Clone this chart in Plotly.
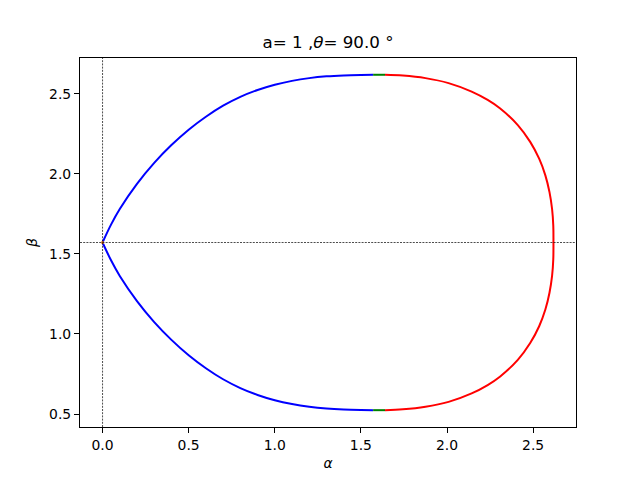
import plotly.graph_objects as go

# ---- data ----
blue_alpha    = [0.000, 0.050, 0.100, 0.200, 0.300, 0.400, 0.500, 0.600, 0.700, 0.800, 0.900,
                 1.000, 1.100, 1.200, 1.300, 1.400, 1.500, 1.571]
blue_up_beta  = [1.571, 1.684, 1.780, 1.937, 2.068, 2.179, 2.275, 2.356, 2.425, 2.480, 2.523,
                 2.556, 2.580, 2.597, 2.608, 2.614, 2.617, 2.618]
blue_lo_beta  = [1.571, 1.458, 1.362, 1.205, 1.074, 0.963, 0.867, 0.786, 0.717, 0.662, 0.619,
                 0.586, 0.562, 0.545, 0.534, 0.528, 0.525, 0.524]

red_alpha = [1.640, 1.744, 1.875, 2.009, 2.143, 2.236, 2.307, 2.411, 2.483, 2.535, 2.571, 2.595, 2.610, 2.617,
             2.618,
             2.617, 2.610, 2.595, 2.571, 2.535, 2.483, 2.411, 2.307, 2.236, 2.143, 2.009, 1.875, 1.744, 1.640]
red_beta  = [2.618, 2.613, 2.597, 2.566, 2.513, 2.461, 2.409, 2.304, 2.199, 2.094, 1.990, 1.885, 1.780, 1.676,
             1.571,
             1.466, 1.362, 1.257, 1.152, 1.048, 0.943, 0.838, 0.733, 0.681, 0.629, 0.576, 0.545, 0.529, 0.524]

green_alpha    = [1.571, 1.640]
green_up_beta  = [2.618, 2.618]
green_lo_beta  = [0.524, 0.524]

point_alpha = [0.0]
point_beta = [1.5708]

ref_alpha = 0.0
ref_beta = 1.5708

x_range = [-0.1309, 2.7489]
y_range = [0.4189, 2.7227]
x_ticks = [0.0, 0.5, 1.0, 1.5, 2.0, 2.5]
y_ticks = [0.5, 1.0, 1.5, 2.0, 2.5]

title_text = "a= 1 ,<i>θ</i>= 90.0 °"

FONT = "DejaVu Sans"

fig = go.Figure()

for ys in [blue_up_beta, blue_lo_beta]:
    fig.add_trace(go.Scatter(x=blue_alpha, y=ys, mode="lines",
                             line=dict(color="blue", width=2, shape="spline", smoothing=1.0),
                             showlegend=False, hoverinfo="skip"))
fig.add_trace(go.Scatter(x=red_alpha, y=red_beta, mode="lines",
                         line=dict(color="red", width=2, shape="spline", smoothing=1.0),
                         showlegend=False, hoverinfo="skip"))
for ys in [green_up_beta, green_lo_beta]:
    fig.add_trace(go.Scatter(x=green_alpha, y=ys, mode="lines",
                             line=dict(color="green", width=2),
                             showlegend=False, hoverinfo="skip"))

# reference dashed lines spanning the axes
fig.add_shape(type="line", xref="x", yref="paper", x0=ref_alpha, x1=ref_alpha, y0=0, y1=1,
              line=dict(color="black", width=0.7, dash="2px,1.2px"))
fig.add_shape(type="line", xref="paper", yref="y", x0=0, x1=1, y0=ref_beta, y1=ref_beta,
              line=dict(color="black", width=0.7, dash="2px,1.2px"))

fig.add_trace(go.Scatter(x=point_alpha, y=point_beta, mode="markers",
                         marker=dict(color="#ff7f0e", size=3),
                         showlegend=False, hoverinfo="skip"))

axis_common = dict(showgrid=False, zeroline=False, showline=True, linecolor="black",
                   linewidth=1.1, mirror=True, ticks="outside", ticklen=5, tickwidth=1.1,
                   tickcolor="black", tickfont=dict(family=FONT, size=13.9, color="black"),
                   tickformat=".1f")

fig.update_xaxes(range=x_range, tickvals=x_ticks, **axis_common,
                 title=dict(text="<i>α</i>", font=dict(family=FONT, size=13.9, color="black"), standoff=6))
fig.update_yaxes(range=y_range, tickvals=y_ticks, **axis_common,
                 title=dict(text="<i>β</i>", font=dict(family=FONT, size=13.9, color="black"), standoff=8))

# page body has an 8px margin, so the figure is drawn 8px in from the window edge
fig.update_layout(
    width=632, height=472,
    margin=dict(l=72, r=64, t=50, b=53, autoexpand=False),
    paper_bgcolor="white", plot_bgcolor="white",
    title=dict(text=title_text, x=(72 + 568) / 2 / 632, xanchor="center",
               y=1 - 34 / 472, yanchor="middle", yref="container",
               font=dict(family=FONT, size=16.7, color="black")),
)

fig.write_html("out.html")
